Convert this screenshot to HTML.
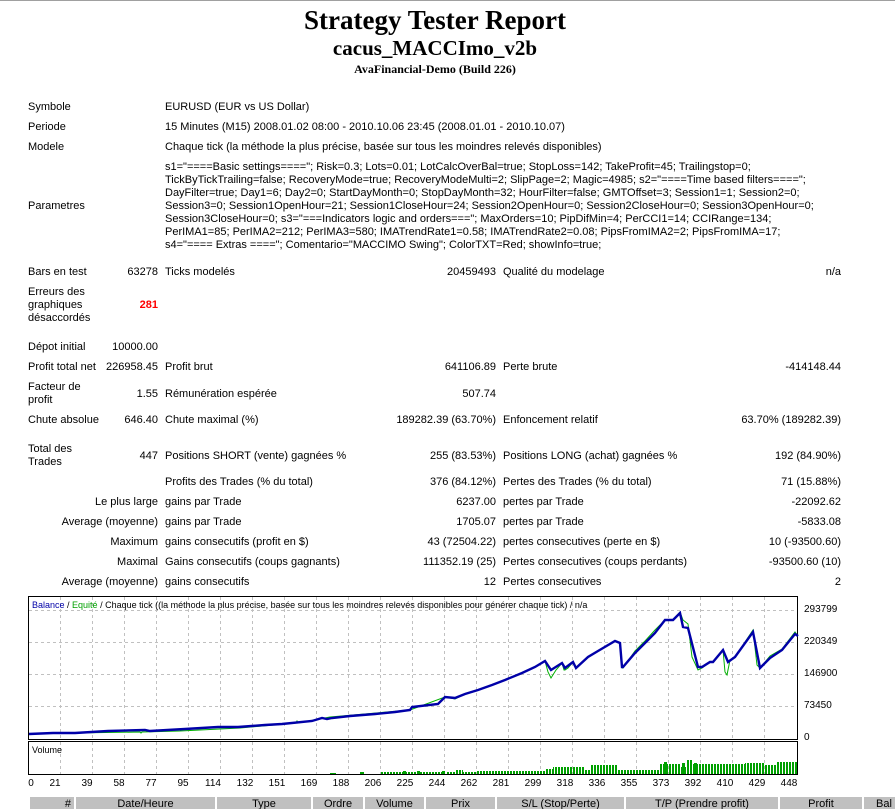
<!DOCTYPE html>
<html><head><meta charset="utf-8">
<style>
body{margin:0;width:895px;height:806px;overflow:hidden;background:#fff;position:relative;font-family:"Liberation Sans","DejaVu Sans",sans-serif;font-size:11px;color:#000}
.t{position:absolute;white-space:nowrap;line-height:13px}
.r{position:absolute;white-space:nowrap;line-height:13px;text-align:right}
.h{position:absolute;left:0;width:870px;text-align:center;font-family:"Liberation Serif",serif;font-weight:bold;white-space:nowrap}
.c{position:absolute;top:797px;height:12px;background:#c0c0c0;font-size:11px;text-align:center;line-height:14px;overflow:hidden}
</style></head><body>
<div style="position:absolute;left:0;top:0;width:895px;height:1px;background:#a0a0a0"></div>
<div class="h" style="top:4px;font-size:27px;line-height:32px">Strategy Tester Report</div>
<div class="h" style="top:36px;font-size:21px;line-height:24px">cacus_MACCImo_v2b</div>
<div class="h" style="top:62px;font-size:12px;line-height:14px">AvaFinancial-Demo (Build 226)</div>

<div class="t" style="left:28px;top:101px">Symbole</div>
<div class="t" style="left:165px;top:101px">EURUSD (EUR vs US Dollar)</div>
<div class="t" style="left:28px;top:121px">Periode</div>
<div class="t" style="left:165px;top:121px">15 Minutes (M15) 2008.01.02 08:00 - 2010.10.06 23:45 (2008.01.01 - 2010.10.07)</div>
<div class="t" style="left:28px;top:141px">Modele</div>
<div class="t" style="left:165px;top:141px">Chaque tick (la méthode la plus précise, basée sur tous les moindres relevés disponibles)</div>
<div class="t" style="left:28px;top:200px">Parametres</div>
<div class="t" style="left:165px;top:161px">s1="====Basic settings===="; Risk=0.3; Lots=0.01; LotCalcOverBal=true; StopLoss=142; TakeProfit=45; Trailingstop=0;<br>TickByTickTrailing=false; RecoveryMode=true; RecoveryModeMulti=2; SlipPage=2; Magic=4985; s2="====Time based filters====";<br>DayFilter=true; Day1=6; Day2=0; StartDayMonth=0; StopDayMonth=32; HourFilter=false; GMTOffset=3; Session1=1; Session2=0;<br>Session3=0; Session1OpenHour=21; Session1CloseHour=24; Session2OpenHour=0; Session2CloseHour=0; Session3OpenHour=0;<br>Session3CloseHour=0; s3="===Indicators logic and orders==="; MaxOrders=10; PipDifMin=4; PerCCI1=14; CCIRange=134;<br>PerIMA1=85; PerIMA2=212; PerIMA3=580; IMATrendRate1=0.58; IMATrendRate2=0.08; PipsFromIMA2=2; PipsFromIMA=17;<br>s4="==== Extras ===="; Comentario="MACCIMO Swing"; ColorTXT=Red; showInfo=true;</div>

<div class="t" style="left:28px;top:266px">Bars en test</div>
<div class="r" style="right:737px;top:266px">63278</div>
<div class="t" style="left:165px;top:266px">Ticks modelés</div>
<div class="r" style="right:399px;top:266px">20459493</div>
<div class="t" style="left:503px;top:266px">Qualité du modelage</div>
<div class="r" style="right:54px;top:266px">n/a</div>

<div class="t" style="left:28px;top:286px">Erreurs des<br>graphiques<br>désaccordés</div>
<div class="r" style="right:737px;top:299px;color:#f00;font-weight:bold">281</div>

<div class="t" style="left:28px;top:341px">Dépot initial</div>
<div class="r" style="right:737px;top:341px">10000.00</div>
<div class="t" style="left:28px;top:361px">Profit total net</div>
<div class="r" style="right:737px;top:361px">226958.45</div>
<div class="t" style="left:165px;top:361px">Profit brut</div>
<div class="r" style="right:399px;top:361px">641106.89</div>
<div class="t" style="left:503px;top:361px">Perte brute</div>
<div class="r" style="right:54px;top:361px">-414148.44</div>
<div class="t" style="left:28px;top:381px">Facteur de<br>profit</div>
<div class="r" style="right:737px;top:388px">1.55</div>
<div class="t" style="left:165px;top:388px">Rémunération espérée</div>
<div class="r" style="right:399px;top:388px">507.74</div>
<div class="t" style="left:28px;top:414px">Chute absolue</div>
<div class="r" style="right:737px;top:414px">646.40</div>
<div class="t" style="left:165px;top:414px">Chute maximal (%)</div>
<div class="r" style="right:399px;top:414px">189282.39 (63.70%)</div>
<div class="t" style="left:503px;top:414px">Enfoncement relatif</div>
<div class="r" style="right:54px;top:414px">63.70% (189282.39)</div>

<div class="t" style="left:28px;top:443px">Total des<br>Trades</div>
<div class="r" style="right:737px;top:450px">447</div>
<div class="t" style="left:165px;top:450px">Positions SHORT (vente) gagnées %</div>
<div class="r" style="right:399px;top:450px">255 (83.53%)</div>
<div class="t" style="left:503px;top:450px">Positions LONG (achat) gagnées %</div>
<div class="r" style="right:54px;top:450px">192 (84.90%)</div>
<div class="t" style="left:165px;top:476px">Profits des Trades (% du total)</div>
<div class="r" style="right:399px;top:476px">376 (84.12%)</div>
<div class="t" style="left:503px;top:476px">Pertes des Trades (% du total)</div>
<div class="r" style="right:54px;top:476px">71 (15.88%)</div>

<div class="r" style="right:737px;top:496px">Le plus large</div>
<div class="t" style="left:165px;top:496px">gains par Trade</div>
<div class="r" style="right:399px;top:496px">6237.00</div>
<div class="t" style="left:503px;top:496px">pertes par Trade</div>
<div class="r" style="right:54px;top:496px">-22092.62</div>
<div class="r" style="right:737px;top:516px">Average (moyenne)</div>
<div class="t" style="left:165px;top:516px">gains par Trade</div>
<div class="r" style="right:399px;top:516px">1705.07</div>
<div class="t" style="left:503px;top:516px">pertes par Trade</div>
<div class="r" style="right:54px;top:516px">-5833.08</div>
<div class="r" style="right:737px;top:536px">Maximum</div>
<div class="t" style="left:165px;top:536px">gains consecutifs (profit en $)</div>
<div class="r" style="right:399px;top:536px">43 (72504.22)</div>
<div class="t" style="left:503px;top:536px">pertes consecutives (perte en $)</div>
<div class="r" style="right:54px;top:536px">10 (-93500.60)</div>
<div class="r" style="right:737px;top:556px">Maximal</div>
<div class="t" style="left:165px;top:556px">Gains consecutifs (coups gagnants)</div>
<div class="r" style="right:399px;top:556px">111352.19 (25)</div>
<div class="t" style="left:503px;top:556px">Pertes consecutives (coups perdants)</div>
<div class="r" style="right:54px;top:556px">-93500.60 (10)</div>
<div class="r" style="right:737px;top:576px">Average (moyenne)</div>
<div class="t" style="left:165px;top:576px">gains consecutifs</div>
<div class="r" style="right:399px;top:576px">12</div>
<div class="t" style="left:503px;top:576px">Pertes consecutives</div>
<div class="r" style="right:54px;top:576px">2</div>

<svg style="position:absolute;left:0;top:0" width="895" height="806" font-family="Liberation Sans, DejaVu Sans, sans-serif" font-size="10">
<defs>
<pattern id="vb" width="3" height="20" patternUnits="userSpaceOnUse"><rect x="0" y="0" width="2" height="20" fill="#00a000"/></pattern>
</defs>
<rect x="28.5" y="596.5" width="769" height="143" fill="#fff" stroke="#000"/>
<rect x="28.5" y="741.5" width="769" height="33" fill="#fff" stroke="#000"/>
<g stroke="#c0c0c0" stroke-dasharray="3,3" stroke-width="1">
<path d="M60.5 597V739M92.5 597V739M124.5 597V739M156.5 597V739M188.5 597V739M220.5 597V739M252.5 597V739M284.5 597V739M316.5 597V739M348.5 597V739M380.5 597V739M412.5 597V739M444.5 597V739M476.5 597V739M508.5 597V739M540.5 597V739M572.5 597V739M604.5 597V739M636.5 597V739M668.5 597V739M700.5 597V739M732.5 597V739M764.5 597V739"/>
<path d="M60.5 742V774M92.5 742V774M124.5 742V774M156.5 742V774M188.5 742V774M220.5 742V774M252.5 742V774M284.5 742V774M316.5 742V774M348.5 742V774M380.5 742V774M412.5 742V774M444.5 742V774M476.5 742V774M508.5 742V774M540.5 742V774M572.5 742V774M604.5 742V774M636.5 742V774M668.5 742V774M700.5 742V774M732.5 742V774M764.5 742V774"/>
<path d="M29 610.5H797M29 642.5H797M29 674.5H797M29 706.5H797"/>
</g>
<g fill="#00a000">
<rect x="330" y="773" width="6" height="1"/><rect x="360" y="772" width="4" height="2"/>
<rect x="381" y="772" width="64" height="2" fill="url(#vb)"/>
<rect x="403" y="771" width="3" height="3"/><rect x="417" y="771" width="3" height="3"/><rect x="442" y="771" width="3" height="3"/>
<rect x="446" y="772" width="30" height="2" fill="url(#vb)"/>
<rect x="455" y="770" width="8" height="4" fill="url(#vb)"/>
<rect x="476" y="771" width="33" height="3" fill="url(#vb)"/>
<rect x="509" y="771" width="36" height="3" fill="url(#vb)"/>
<rect x="545" y="769" width="12" height="5" fill="url(#vb)"/>
<rect x="553" y="767" width="32" height="7" fill="url(#vb)"/>
<rect x="585" y="770" width="35" height="4" fill="url(#vb)"/>
<rect x="590" y="765" width="28" height="9" fill="url(#vb)"/>
<rect x="620" y="770" width="40" height="4" fill="url(#vb)"/>
<rect x="660" y="764" width="20" height="10" fill="url(#vb)"/>
<rect x="680" y="767" width="30" height="7" fill="url(#vb)"/>
<rect x="664" y="762" width="3" height="12"/><rect x="682" y="763" width="3" height="11"/><rect x="694" y="763" width="3" height="11"/>
<rect x="711" y="768" width="35" height="6" fill="url(#vb)"/>
<rect x="686" y="760" width="6" height="14" fill="url(#vb)"/>
<rect x="692" y="764" width="60" height="10" fill="url(#vb)"/>
<rect x="752" y="765" width="25" height="9" fill="url(#vb)"/>
<rect x="745" y="763" width="20" height="11" fill="url(#vb)"/>
<rect x="777" y="762" width="20" height="12" fill="url(#vb)"/>
</g>
<polyline fill="none" stroke="#00b000" stroke-width="1" points="29,734 53,733 75,733 140,732 141,733 142,732 180,731 240,728 296,723 297,721 298,723 330,717 410,710 445,697 455,699 465,694 478,690 492,685 505,680 522,673 535,667 545,661 548,672 551,678 556,670 562,663 564,670 565,670 568,668 573,662 576,668 588,657 598,651 615,641 620,643 621,660 623,668 635,651 645,641 655,630 665,620 673,620 680,612 683,620 688,624 692,657 698,670 702,668 710,662 713,662 723,650 725,672 727,675 730,660 735,657 753,630 757,665 760,668 770,656 782,649 795,632 798,636"/>
<polyline fill="none" stroke="#0000a8" stroke-width="2.4" points="29,734 53,733 75,733 108,731 145,730 150,731 185,729 218,727 238,727 265,725 282,724 312,721 322,718 327,719 332,718 350,716 375,714 395,712 410,710 412,707 438,704 445,697 455,698 465,694 478,690 492,685 505,680 522,673 535,667 545,661 551,670 562,663 565,668 573,662 576,668 588,657 598,651 615,641 620,643 622,667 623,667 635,653 645,643 655,633 665,620 673,620 680,613 683,627 688,628 698,667 702,667 710,662 713,662 723,650 728,662 735,657 753,632 760,668 770,658 782,650 795,634 798,636"/>
<g fill="#000" font-size="10">
<text x="804" y="612">293799</text><text x="804" y="644">220349</text><text x="804" y="676">146900</text><text x="804" y="708">73450</text><text x="804" y="740">0</text>
<text x="32" y="753" font-size="9">Volume</text>
</g>
<text x="32" y="608" font-size="9"><tspan fill="#0000a8">Balance</tspan> / <tspan fill="#00a000">Equité</tspan> / Chaque tick ((la méthode la plus précise, basée sur tous les moindres relevés disponibles pour générer chaque tick) / n/a</text>
<g font-size="10" text-anchor="middle">
<text x="31" y="786">0</text><text x="55" y="786">21</text><text x="87" y="786">39</text><text x="119" y="786">58</text><text x="151" y="786">77</text><text x="183" y="786">95</text><text x="213" y="786">114</text><text x="245" y="786">132</text><text x="277" y="786">151</text><text x="309" y="786">169</text><text x="341" y="786">188</text><text x="373" y="786">206</text><text x="405" y="786">225</text><text x="437" y="786">244</text><text x="469" y="786">262</text><text x="501" y="786">281</text><text x="533" y="786">299</text><text x="565" y="786">318</text><text x="597" y="786">336</text><text x="629" y="786">355</text><text x="661" y="786">373</text><text x="693" y="786">392</text><text x="725" y="786">410</text><text x="757" y="786">429</text><text x="789" y="786">448</text>
</g>
</svg>
<div class="c" style="left:30px;width:44px;text-align:right">#&nbsp;</div>
<div class="c" style="left:76px;width:139px">Date/Heure</div>
<div class="c" style="left:217px;width:94px">Type</div>
<div class="c" style="left:313px;width:50px">Ordre</div>
<div class="c" style="left:365px;width:59px">Volume</div>
<div class="c" style="left:426px;width:69px">Prix</div>
<div class="c" style="left:497px;width:127px">S/L (Stop/Perte)</div>
<div class="c" style="left:626px;width:152px">T/P (Prendre profit)</div>
<div class="c" style="left:780px;width:82px">Profit</div>
<div class="c" style="left:864px;width:40px">Bal</div>
</body></html>
